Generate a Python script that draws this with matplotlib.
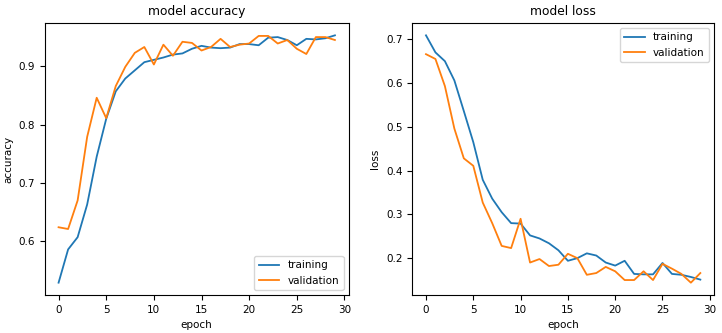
import numpy as np
import matplotlib
matplotlib.use("Agg")
import matplotlib.pyplot as plt

# values
epochs = list(range(30))

acc_train = [0.529, 0.586, 0.607, 0.663, 0.745, 0.810, 0.857, 0.879, 0.893, 0.907,
             0.911, 0.915, 0.920, 0.922, 0.930, 0.935, 0.932, 0.931, 0.932, 0.938,
             0.938, 0.936, 0.949, 0.950, 0.945, 0.936, 0.947, 0.946, 0.948, 0.953]
acc_val = [0.624, 0.621, 0.670, 0.779, 0.846, 0.811, 0.866, 0.899, 0.923, 0.933,
           0.903, 0.937, 0.918, 0.942, 0.940, 0.927, 0.933, 0.947, 0.933, 0.937,
           0.939, 0.952, 0.952, 0.939, 0.945, 0.930, 0.921, 0.950, 0.950, 0.945]

loss_train = [0.709, 0.670, 0.650, 0.606, 0.536, 0.465, 0.379, 0.336, 0.305, 0.280,
              0.279, 0.252, 0.245, 0.234, 0.218, 0.194, 0.200, 0.211, 0.206, 0.190,
              0.183, 0.194, 0.164, 0.163, 0.163, 0.189, 0.164, 0.162, 0.157, 0.151]
loss_val = [0.666, 0.655, 0.593, 0.496, 0.428, 0.411, 0.327, 0.280, 0.228, 0.223,
            0.290, 0.190, 0.198, 0.182, 0.185, 0.210, 0.200, 0.162, 0.166, 0.180,
            0.170, 0.150, 0.150, 0.170, 0.150, 0.187, 0.176, 0.164, 0.144, 0.166]

plt.rcParams['font.size'] = 7.5
plt.rcParams['lines.linewidth'] = 1.3

fig = plt.figure(figsize=(7.22, 3.33), dpi=100)
ax1 = fig.add_axes([0.062, 0.114, 0.421, 0.817])
ax2 = fig.add_axes([0.571, 0.114, 0.418, 0.817])

ax1.plot(epochs, acc_train, label='training')
ax1.plot(epochs, acc_val, label='validation')
ax1.set_title('model accuracy', fontsize=8.8)
ax1.set_ylabel('accuracy')
ax1.set_xlabel('epoch')
ax1.legend(loc='lower right')

ax2.plot(epochs, loss_train, label='training')
ax2.plot(epochs, loss_val, label='validation')
ax2.set_title('model loss', fontsize=8.8)
ax2.set_ylabel('loss')
ax2.set_xlabel('epoch')
ax2.legend(loc='upper right')

fig.savefig('out.png', dpi=100)
